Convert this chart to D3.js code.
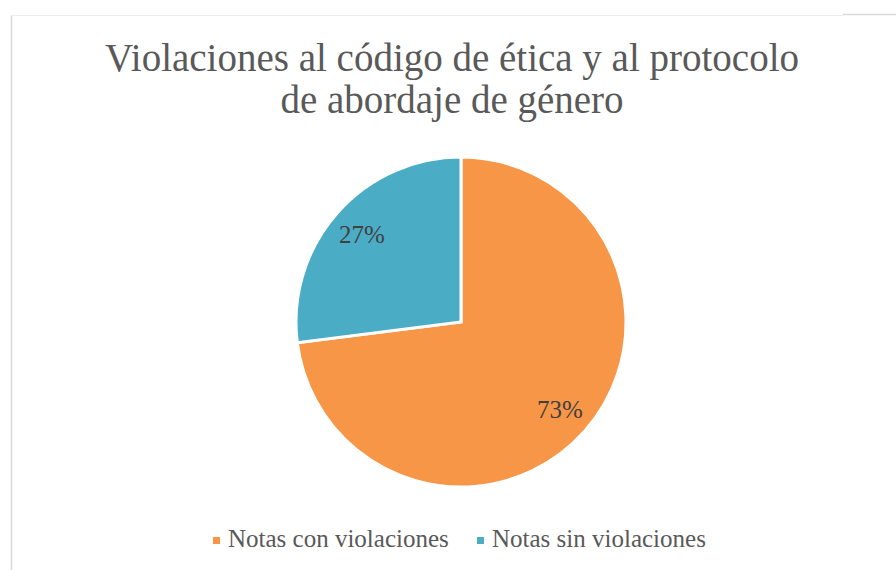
<!DOCTYPE html>
<html><head><meta charset="utf-8">
<script src="https://cdn.jsdelivr.net/npm/d3@7"></script>
<style>body{margin:0;background:#fff}svg{display:block}</style>
</head><body>
<script>
const categories = ["Notas con violaciones", "Notas sin violaciones"];
const values = [73, 27];
const labels = ["73%", "27%"];
const colors = ["#F79646", "#4BACC6"];
const titleLines = ["Violaciones al código de ética y al protocolo", "de abordaje de género"];

const W = 896, H = 570;
const svg = d3.select("body").append("svg").attr("width", W).attr("height", H);
const font = "Liberation Serif, DejaVu Serif, serif";

// frame
svg.append("line").attr("x1", 11.5).attr("x2", 11.5).attr("y1", 15).attr("y2", H).attr("stroke", "#d9d9d9").attr("stroke-width", 1.5);
svg.append("line").attr("x1", 11).attr("x2", 843).attr("y1", 15.5).attr("y2", 15.5).attr("stroke", "#eeeeee").attr("stroke-width", 1);
svg.append("line").attr("x1", 843).attr("x2", W).attr("y1", 14.5).attr("y2", 14.5).attr("stroke", "#d9d9d9").attr("stroke-width", 1.5);

// title
const title = svg.append("text").attr("text-anchor", "middle").attr("fill", "#595959")
  .style("font-family", font).style("font-size", "39px");
title.selectAll("tspan").data(titleLines).join("tspan")
  .attr("x", 452).attr("y", (d, i) => 71 + i * 42).text(d => d);

// pie
const cx = 461, cy = 322, r = 165;
const pie = d3.pie().sort(null).value(d => d)(values);
const arc = d3.arc().innerRadius(0).outerRadius(r);
const labelArc = d3.arc().innerRadius(r * 0.8).outerRadius(r * 0.8);
const g = svg.append("g").attr("transform", `translate(${cx},${cy})`);
g.selectAll("path").data(pie).join("path")
  .attr("d", arc).attr("fill", (d, i) => colors[i])
  .attr("stroke", "#fff").attr("stroke-width", 3).attr("stroke-linejoin", "miter");
g.selectAll("text").data(pie).join("text")
  .attr("transform", d => `translate(${labelArc.centroid(d)})`)
  .attr("text-anchor", "middle").attr("dy", "0.35em")
  .attr("fill", "#404040").style("font-family", font).style("font-size", "25px")
  .text((d, i) => labels[i]);

// legend
const legendX = [213, 477];
const lg = svg.append("g");
categories.forEach((c, i) => {
  lg.append("rect").attr("x", legendX[i]).attr("y", 537).attr("width", 7).attr("height", 7).attr("fill", colors[i]);
  lg.append("text").attr("x", legendX[i] + 15).attr("y", 547)
    .attr("fill", "#595959").style("font-family", font).style("font-size", "25px").text(c);
});
</script>
</body></html>
